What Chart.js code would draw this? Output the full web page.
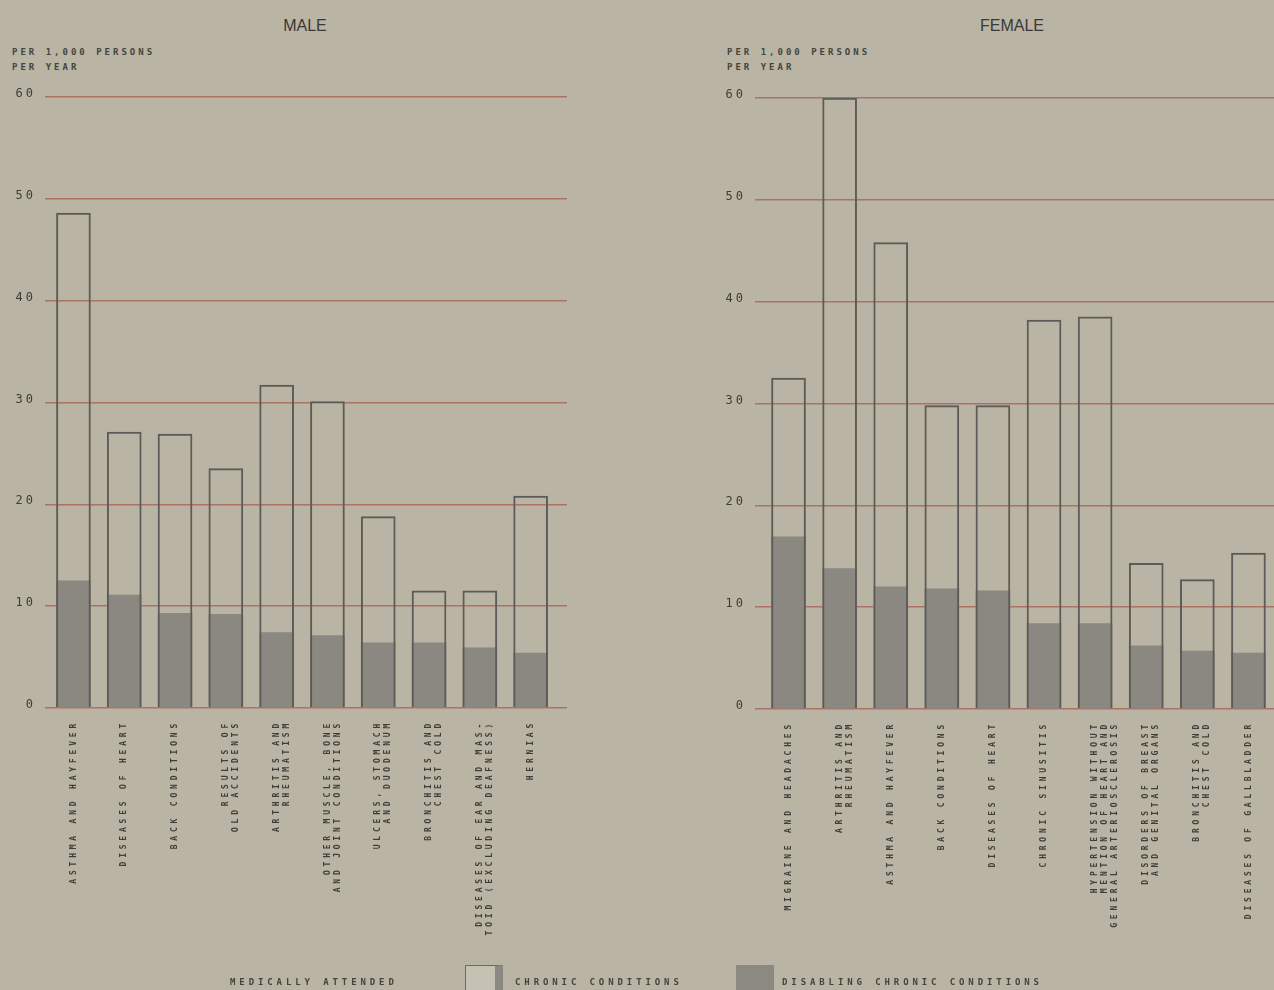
<!DOCTYPE html>
<html>
<head>
<meta charset="utf-8">
<script src="https://cdn.jsdelivr.net/npm/chart.js@4.4.1/dist/chart.umd.min.js"></script>
<style>
body { margin:0; background:#b9b4a3; overflow:hidden; width:1274px; height:990px; position:relative; font-family:"DejaVu Sans Mono", monospace; color:#3d3c39; }
canvas { position:absolute; top:0; }
#male { left:0; }
#female { left:700px; }
.title { position:absolute; top:17px; font-family:"Liberation Sans Narrow","Liberation Sans",sans-serif; font-size:16px; color:#3a3936; transform:translateX(-50%); }
.unit { position:absolute; top:45px; font-size:9px; font-weight:bold; letter-spacing:3px; line-height:15px; color:#45443f; }
.leg { position:absolute; top:977px; font-size:9px; font-weight:bold; letter-spacing:3.9px; white-space:nowrap; color:#45443f; }
.box { position:absolute; top:965px; width:38px; height:30px; box-sizing:border-box; }
</style>
</head>
<body>
<div class="title" style="left:305px">MALE</div>
<div class="title" style="left:1012px">FEMALE</div>
<div class="unit" style="left:12px">PER 1,000 PERSONS<br>PER YEAR</div>
<div class="unit" style="left:727px">PER 1,000 PERSONS<br>PER YEAR</div>

<canvas id="male" width="580" height="990"></canvas>
<canvas id="female" width="574" height="990"></canvas>

<div class="leg" style="left:230px">MEDICALLY ATTENDED</div>
<div class="box" style="left:465px; background:#c4c0b2; border:1.5px solid #6d6b66; border-right:8px solid #8b8982"></div>
<div class="leg" style="left:515px">CHRONIC CONDITIONS</div>
<div class="box" style="left:736px; background:#8b8982"></div>
<div class="leg" style="left:782px">DISABLING CHRONIC CONDITIONS</div>

<script>
// values, per 1,000 persons per year
var maleLabels = [
    ['ASTHMA AND HAYFEVER'],
    ['DISEASES OF HEART'],
    ['BACK CONDITIONS'],
    ['RESULTS OF', 'OLD ACCIDENTS'],
    ['ARTHRITIS AND', 'RHEUMATISM'],
    ['OTHER MUSCLE, BONE', 'AND JOINT CONDITIONS'],
    ['ULCERS, STOMACH', 'AND DUODENUM'],
    ['BRONCHITIS AND', 'CHEST COLD'],
    ['DISEASES OF EAR AND MAS-', 'TOID (EXCLUDING DEAFNESS)'],
    ['HERNIAS']
];
var maleAttended = [48.6, 27.1, 26.9, 23.5, 31.7, 30.1, 18.8, 11.5, 11.5, 20.8];
var maleDisabling = [12.5, 11.1, 9.3, 9.2, 7.4, 7.1, 6.4, 6.4, 5.9, 5.4];

var femaleLabels = [
    ['MIGRAINE AND HEADACHES'],
    ['ARTHRITIS AND', 'RHEUMATISM'],
    ['ASTHMA AND HAYFEVER'],
    ['BACK CONDITIONS'],
    ['DISEASES OF HEART'],
    ['CHRONIC SINUSITIS'],
    ['HYPERTENSION WITHOUT', 'MENTION OF HEART AND', 'GENERAL ARTERIOSCLEROSIS'],
    ['DISORDERS OF BREAST', 'AND GENITAL ORGANS'],
    ['BRONCHITIS AND', 'CHEST COLD'],
    ['DISEASES OF GALLBLADDER']
];
var femaleAttended = [32.5, 60, 45.8, 29.8, 29.8, 38.2, 38.5, 14.3, 12.7, 15.3];
var femaleDisabling = [16.9, 13.8, 12.0, 11.8, 11.6, 8.4, 8.4, 6.2, 5.7, 5.5];

var yTicks = [0, 10, 20, 30, 40, 50, 60];

// y labels drawn a bit tighter, x labels (drawn after the bars) spaced out
var spacing = {
    id: 'spacing',
    beforeUpdate: function(chart) { chart.ctx.letterSpacing = '3.8px'; },
    beforeDraw: function(chart) { chart.ctx.letterSpacing = '3px'; },
    beforeDatasetsDraw: function(chart) { chart.ctx.letterSpacing = '3.8px'; }
};

function points(arr) {
    return arr.map(function(v, i) { return {x: i, y: v}; });
}

function makeChart(id, labels, attended, disabling, xmin, xmax, yWidth, pad) {
    return new Chart(document.getElementById(id), {
        type: 'bar',
        data: {
            datasets: [{
                label: 'DISABLING CHRONIC CONDITIONS',
                data: points(disabling),
                backgroundColor: '#8a8880',
                borderWidth: 0,
                barThickness: 34,
                grouped: false,
                order: 2
            }, {
                label: 'MEDICALLY ATTENDED CHRONIC CONDITIONS',
                data: points(attended),
                backgroundColor: 'rgba(0,0,0,0)',
                borderColor: '#5d5b57',
                borderWidth: 1.3,
                borderSkipped: 'bottom',
                barThickness: 34,
                grouped: false,
                order: 1
            }]
        },
        options: {
            responsive: false,
            animation: false,
            devicePixelRatio: 1,
            layout: { padding: pad },
            plugins: { legend: { display: false }, tooltip: { enabled: false } },
            scales: {
                x: {
                    type: 'linear',
                    min: xmin,
                    max: xmax,
                    bounds: 'data',
                    offset: false,
                    grid: { display: false, offset: false },
                    border: { display: false },
                    afterBuildTicks: function(scale) {
                        scale.ticks = labels.map(function(l, i) { return {value: i}; });
                    },
                    afterFit: function(scale) { scale.height = 230; },
                    ticks: {
                        z: 1,
                        autoSkip: false,
                        minRotation: 90,
                        maxRotation: 90,
                        padding: 4,
                        color: '#3f3e3a',
                        font: { family: 'DejaVu Sans Mono', size: 8, weight: 'bold', lineHeight: 1.25 },
                        callback: function(v) { return labels[v]; }
                    }
                },
                y: {
                    min: 0,
                    max: 60,
                    afterBuildTicks: function(scale) {
                        scale.ticks = yTicks.map(function(v) { return {value: v}; });
                    },
                    afterFit: function(scale) { scale.width = yWidth; },
                    grid: { color: '#ad7266', lineWidth: 1.5, drawTicks: false },
                    border: { display: false },
                    ticks: {
                        padding: 9,
                        labelOffset: -3,
                        color: '#3d3c39',
                        font: { family: 'DejaVu Sans Mono', size: 12 }
                    }
                }
            }
        },
        plugins: [spacing]
    });
}

makeChart('male', maleLabels, maleAttended, maleDisabling, -0.56, 9.716, 45,
    { top: 97, right: 13, bottom: 52, left: 0 });
makeChart('female', femaleLabels, femaleAttended, femaleDisabling, -0.656, 9.50, 55,
    { top: 98, right: 0, bottom: 51, left: 0 });
</script>
</body>
</html>
